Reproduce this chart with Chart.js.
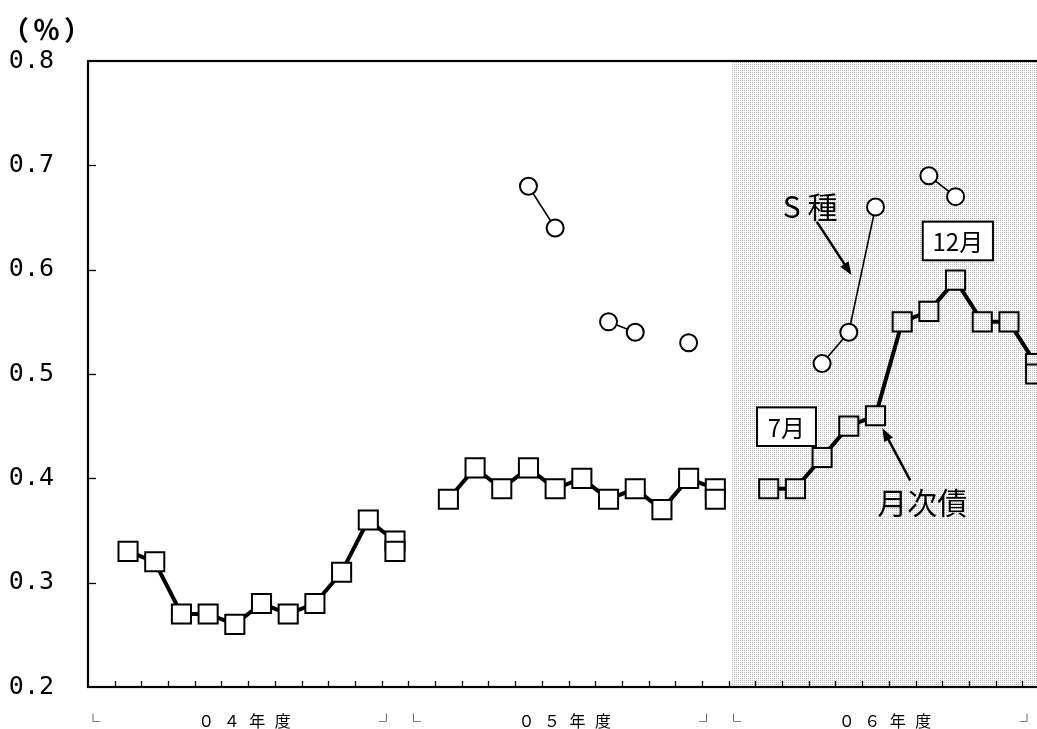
<!DOCTYPE html>
<html><head><meta charset="utf-8">
<script src="https://cdn.jsdelivr.net/npm/chart.js@4.4.0/dist/chart.umd.min.js"></script>
<style>html,body{margin:0;padding:0;overflow:hidden;background:#fff}#wrap{width:1060px;height:729px}</style>
</head><body><div id="wrap"><canvas id="c" width="1060" height="729"></canvas></div>
<script>
// ---- data (fiscal years start in April; slot 0 = April) ----
const yearLabels = ['０４年度', '０５年度', '０６年度'];
const slotInYear = [0, 1, 2, 3, 4, 5, 6, 7, 8, 9, 10, 11, 11];
const monthly04 = [null, 0.33, 0.32, 0.27, 0.27, 0.26, 0.28, 0.27, 0.28, 0.31, 0.36, 0.34, 0.33];
const monthly05 = [null, 0.38, 0.41, 0.39, 0.41, 0.39, 0.40, 0.38, 0.39, 0.37, 0.40, 0.39, 0.38];
const monthly06 = [null, 0.39, 0.39, 0.42, 0.45, 0.46, 0.55, 0.56, 0.59, 0.55, 0.55, 0.51, 0.50];
const sType04 = [null, null, null, null, null, null, null, null, null, null, null, null, null];
const sType05 = [null, null, null, null, 0.68, 0.64, null, 0.55, 0.54, null, 0.53, null, null];
const sType06 = [null, null, null, 0.51, 0.54, 0.66, null, 0.69, 0.67, null, null, null, null];
const yTicks = [0.2, 0.3, 0.4, 0.5, 0.6, 0.7, 0.8];
const seriesNames = ['月次債', 'S種'];
const boxLabels = ['7月', '12月'];
const unitLabel = '（％）';

function build(years) {
  const pts = [];
  years.forEach((arr, yi) => arr.forEach((v, i) => pts.push({x: yi * 12 + slotInYear[i] + 0.5, y: v})));
  return pts;
}

// dotted shading pattern
const pc = document.createElement('canvas'); pc.width = 2; pc.height = 2;
const pg = pc.getContext('2d');
pg.fillStyle = '#ffffff'; pg.fillRect(0, 0, 2, 2);
pg.fillStyle = '#b8b8b8'; pg.fillRect(0, 0, 1, 1);
const canvas = document.getElementById('c');
const pattern = canvas.getContext('2d').createPattern(pc, 'repeat');
const shadeStart = 24.12;

// annotation anchors in data units (x: months, y: %)
const ann = {
  sText: {x: 27.05, y: 0.66},
  sArrow: {x1: 27.3, y1: 0.646, x2: 28.6, y2: 0.595},
  mText: {x: 31.25, y: 0.377},
  mArrow: {x1: 30.8, y1: 0.398, x2: 29.76, y2: 0.448},
  box12: {x1: 31.27, x2: 33.9, y1: 0.646, y2: 0.609},
  box7: {x1: 25.06, x2: 27.27, y1: 0.468, y2: 0.431}
};

function arrow(ctx, x1, y1, x2, y2) {
  const ang = Math.atan2(y2 - y1, x2 - x1), L = 13, W = 5;
  ctx.beginPath(); ctx.moveTo(x1, y1);
  ctx.lineTo(x2 - Math.cos(ang) * L * 0.8, y2 - Math.sin(ang) * L * 0.8); ctx.stroke();
  ctx.beginPath(); ctx.moveTo(x2, y2);
  ctx.lineTo(x2 - L * Math.cos(ang) + W * Math.sin(ang), y2 - L * Math.sin(ang) - W * Math.cos(ang));
  ctx.lineTo(x2 - L * Math.cos(ang) - W * Math.sin(ang), y2 - L * Math.sin(ang) + W * Math.cos(ang));
  ctx.closePath(); ctx.fill();
}

const decor = {
  id: 'decor',
  beforeDatasetsDraw(chart) {
    const {ctx, chartArea: a, scales: {x, y}} = chart;
    ctx.save();
    const sx = x.getPixelForValue(shadeStart);
    ctx.fillStyle = pattern;
    ctx.fillRect(sx, a.top, a.right - sx, a.bottom - a.top);
    ctx.strokeStyle = '#000'; ctx.lineWidth = 1.3;
    for (let m = 1; m < 36; m++) {
      const px = Math.round(x.getPixelForValue(m)) + 0.5;
      ctx.beginPath(); ctx.moveTo(px, a.bottom); ctx.lineTo(px, a.bottom - 6); ctx.stroke();
    }
    yTicks.slice(1, -1).forEach(v => {
      const py = Math.round(y.getPixelForValue(v)) + 0.5;
      ctx.beginPath(); ctx.moveTo(a.left, py); ctx.lineTo(a.left + 8, py); ctx.stroke();
    });
    ctx.lineWidth = 2.2;
    ctx.strokeRect(a.left, a.top, a.right - a.left, a.bottom - a.top);
    ctx.restore();
  },
  afterDatasetsDraw(chart) {
    const {ctx, scales: {x, y}} = chart;
    const X = v => x.getPixelForValue(v), Y = v => y.getPixelForValue(v);
    ctx.save();
    ctx.fillStyle = '#000'; ctx.strokeStyle = '#000';
    // boxes
    [[ann.box7, boxLabels[0]], [ann.box12, boxLabels[1]]].forEach(([b, t]) => {
      const x1 = X(b.x1), x2 = X(b.x2), y1 = Y(b.y1), y2 = Y(b.y2);
      ctx.fillStyle = '#fff'; ctx.fillRect(x1, y1, x2 - x1, y2 - y1);
      ctx.lineWidth = 2; ctx.strokeRect(x1, y1, x2 - x1, y2 - y1);
      ctx.fillStyle = '#000';
      ctx.font = '24px "Noto Sans CJK JP"'; ctx.textAlign = 'center'; ctx.textBaseline = 'middle';
      ctx.fillText(t, (x1 + x2) / 2, (y1 + y2) / 2 + 1);
    });
    // S種
    ctx.font = '30px "Noto Sans CJK JP"'; ctx.textAlign = 'center'; ctx.textBaseline = 'middle';
    ctx.fillText('S 種', X(ann.sText.x), Y(ann.sText.y));
    ctx.lineWidth = 2.5;
    arrow(ctx, X(ann.sArrow.x1), Y(ann.sArrow.y1), X(ann.sArrow.x2), Y(ann.sArrow.y2));
    // 月次債
    ctx.font = '30px "Noto Sans CJK JP"';
    ctx.fillText(seriesNames[0], X(ann.mText.x), Y(ann.mText.y));
    arrow(ctx, X(ann.mArrow.x1), Y(ann.mArrow.y1), X(ann.mArrow.x2), Y(ann.mArrow.y2));
    ctx.restore();
  },
  afterDraw(chart) {
    const {ctx, chartArea: a, scales: {x}} = chart;
    ctx.save();
    ctx.fillStyle = '#000';
    // unit
    ctx.textBaseline = 'middle'; ctx.textAlign = 'left';
    ctx.font = 'bold 27px "Noto Sans CJK JP"';
    try { ctx.letterSpacing = '4px'; } catch (err) {}
    ctx.fillText(unitLabel, 2, 30);
    // year labels + brackets
    yearLabels.forEach((lab, i) => {
      const s = x.getPixelForValue(i * 12), e = x.getPixelForValue(i * 12 + 12), c = x.getPixelForValue(i * 12 + 6);
      ctx.font = '16px "Noto Sans CJK JP"'; ctx.textAlign = 'left'; ctx.textBaseline = 'middle';
      try { ctx.letterSpacing = '9.5px'; } catch (err) {}
      ctx.fillText(lab, c - 50, a.bottom + 34);
      try { ctx.letterSpacing = '0px'; } catch (err) {}
      ctx.font = '15px "Noto Sans CJK JP"';
      ctx.textAlign = 'center'; ctx.textBaseline = 'alphabetic';
      ctx.fillText('└', s + 5, a.bottom + 40);
      ctx.fillText('┘', e - 22, a.bottom + 40);
    });
    ctx.restore();
  }
};

new Chart(canvas, {
  type: 'line',
  data: {
    datasets: [
      {
        label: seriesNames[1],
        data: build([sType04, sType05, sType06]),
        borderColor: '#000', borderWidth: 1.6, tension: 0, spanGaps: false,
        pointStyle: 'circle', pointRadius: 8.5, pointBorderWidth: 2,
        pointBackgroundColor: '#fff', pointBorderColor: '#000'
      },
      {
        label: seriesNames[0],
        data: build([monthly04, monthly05, monthly06]),
        borderColor: '#000', borderWidth: 4, tension: 0, spanGaps: false,
        pointStyle: 'rect', pointRadius: 13.5, pointBorderWidth: 2, pointBorderColor: '#000',
        pointBackgroundColor: c => (c.raw && c.raw.x >= shadeStart) ? pattern : '#fff'
      }
    ]
  },
  options: {
    responsive: false, animation: false, devicePixelRatio: 1,
    layout: {autoPadding: false, padding: {top: 61, right: 11, bottom: 42, left: 0}},
    plugins: {legend: {display: false}, tooltip: {enabled: false}},
    scales: {
      x: {
        type: 'linear', min: 0, max: 36, display: false
      },
      y: {
        type: 'linear', min: 0.2, max: 0.8,
        grid: {display: false, drawTicks: false}, border: {display: false},
        afterBuildTicks: s => { s.ticks = yTicks.map(v => ({value: v})); },
        ticks: {
          padding: 34, color: '#000',
          font: {family: '"DejaVu Sans Mono"', size: 25},
          callback: v => v.toFixed(1)
        },
        afterFit: s => { s.width = 88; s.paddingTop = 0; s.paddingBottom = 0; }
      }
    }
  },
  plugins: [decor]
});
</script>
</body></html>
